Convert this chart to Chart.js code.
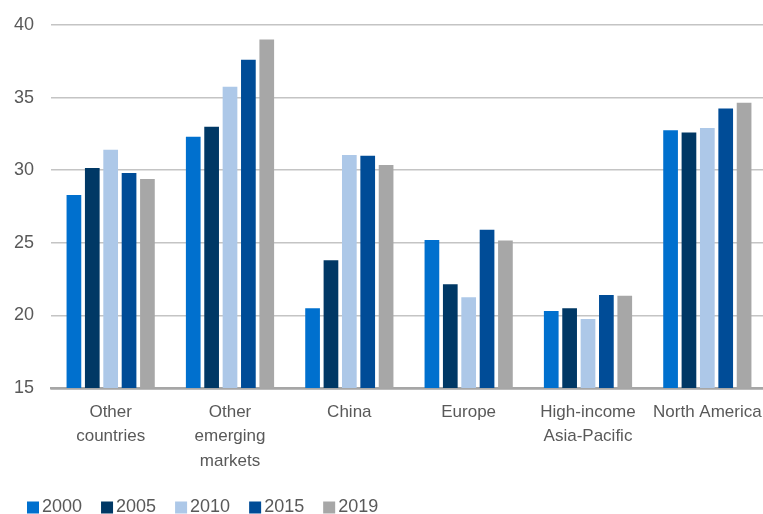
<!DOCTYPE html>
<html>
<head>
<meta charset="utf-8">
<script src="https://cdn.jsdelivr.net/npm/chart.js@4.4.1/dist/chart.umd.min.js"></script>
<style>
  html, body { margin: 0; padding: 0; background: #fff; overflow: hidden; }
  #wrap { width: 763px; height: 514px; overflow: hidden; }
</style>
</head>
<body>
<div id="wrap"><canvas id="c" width="767" height="514"></canvas></div>
<script>
const categories = [
  ["Other", "countries"],
  ["Other", "emerging", "markets"],
  "China",
  "Europe",
  ["High-income", "Asia-Pacific"],
  "North America"
];
const seriesNames = ["2000", "2005", "2010", "2015", "2019"];
const values2000 = [28.3, 32.3, 20.5, 25.2, 20.3, 32.75];
const values2005 = [30.15, 33.0, 23.8, 22.15, 20.5, 32.6];
const values2010 = [31.4, 35.75, 31.05, 21.25, 19.75, 32.9];
const values2015 = [29.8, 37.6, 31.0, 25.9, 21.4, 34.25];
const values2019 = [29.4, 39.0, 30.35, 25.15, 21.35, 34.65];
const yTicks = [15, 20, 25, 30, 35, 40];
const colors = ["#0070CE", "#003865", "#ADC8E8", "#004C97", "#A7A7A7"];

const allValues = [values2000, values2005, values2010, values2015, values2019];

const datasets = seriesNames.map((name, i) => ({
  label: name,
  data: allValues[i],
  backgroundColor: colors[i],
  borderWidth: 0,
  categoryPercentage: 0.77,
  barPercentage: 0.80
}));

// Legend drawn on the chart canvas from the chart's own datasets
const bottomLegend = {
  id: 'bottomLegend',
  afterDraw(chart) {
    const ctx = chart.ctx;
    ctx.save();
    ctx.font = '18px "Liberation Sans"';
    ctx.textBaseline = 'alphabetic';
    ctx.textAlign = 'left';
    let x = 27;
    chart.data.datasets.forEach((ds) => {
      ctx.fillStyle = ds.backgroundColor;
      ctx.fillRect(x, 501.5, 12, 12);
      ctx.fillStyle = '#595959';
      ctx.fillText(ds.label, x + 15, 512);
      x += 15 + ctx.measureText(ds.label).width + 19;
    });
    ctx.restore();
  }
};

new Chart(document.getElementById('c'), {
  type: 'bar',
  data: { labels: categories, datasets },
  plugins: [bottomLegend],
  options: {
    responsive: false,
    animation: false,
    devicePixelRatio: 1,
    layout: { padding: { top: 25, right: 0, left: 0, bottom: 26 } },
    plugins: {
      legend: { display: false },
      tooltip: { enabled: false }
    },
    scales: {
      x: {
        grid: { display: false, drawTicks: false },
        border: { display: true, color: '#A6A6A6', width: 2.5 },
        ticks: {
          color: '#595959',
          font: { family: 'Liberation Sans', size: 17, lineHeight: 1.44 },
          padding: 12,
          maxRotation: 0,
          autoSkip: false
        },
        afterFit: (s) => { s.height = 100; s.paddingLeft = 0; s.paddingRight = 0; }
      },
      y: {
        min: yTicks[0],
        max: yTicks[yTicks.length - 1],
        afterBuildTicks: (s) => { s.ticks = yTicks.map(v => ({ value: v })); },
        grid: {
          drawTicks: false,
          color: (ctx) => ctx.tick && ctx.tick.value === 15 ? '#A6A6A6' : '#C4C4C4',
          lineWidth: (ctx) => ctx.tick && ctx.tick.value === 15 ? 2.5 : 1.5
        },
        border: { display: false },
        ticks: {
          color: '#595959',
          font: { family: 'Liberation Sans', size: 18 },
          padding: 17
        },
        afterFit: (s) => { s.width = 51; s.paddingTop = 0; s.paddingBottom = 0; }
      }
    }
  }
});
</script>
</body>
</html>
